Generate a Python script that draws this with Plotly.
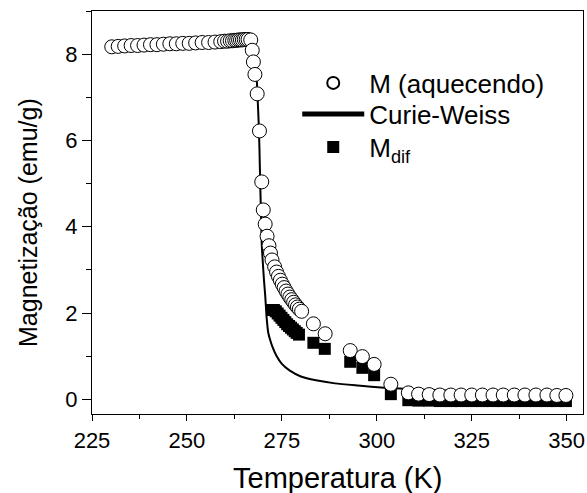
import plotly.graph_objects as go

# M (aquecendo) - open circles
t_heat = [230.2, 231.9, 233.6, 235.3, 237.0, 238.7, 240.4, 242.1, 243.8, 245.5,
          247.2, 248.9, 250.6, 252.3, 254.0, 255.7, 257.4, 258.9, 259.9, 260.7,
          261.4, 262.0, 262.6, 263.1, 263.6, 264.1, 264.6, 265.1, 265.6, 266.1,
          266.8, 267.2, 267.5, 267.9, 268.5, 269.1, 269.7, 270.1, 270.6, 271.1,
          271.6, 272.0, 272.4, 273.1, 273.6, 274.1, 274.6, 275.1, 275.6, 276.1,
          276.6, 277.1, 277.6, 278.1, 278.6, 279.1, 279.6, 280.2, 283.3, 286.4,
          293.0, 296.2, 299.3, 303.7, 308.3, 311.0, 313.8, 316.6, 319.5, 322.2,
          325.0, 327.8, 330.6, 333.3, 336.2, 339.0, 341.9, 344.8, 347.4, 349.8]
m_heat = [8.17, 8.18, 8.19, 8.20, 8.20, 8.21, 8.22, 8.22, 8.23, 8.24,
          8.24, 8.25, 8.25, 8.26, 8.27, 8.27, 8.28, 8.29, 8.30, 8.30,
          8.31, 8.31, 8.32, 8.32, 8.33, 8.33, 8.33, 8.34, 8.34, 8.34,
          8.33, 8.09, 7.82, 7.53, 7.08, 6.22, 5.04, 4.39, 4.06, 3.78,
          3.56, 3.39, 3.23, 3.07, 2.95, 2.85, 2.76, 2.67, 2.59, 2.51,
          2.44, 2.37, 2.31, 2.25, 2.19, 2.14, 2.09, 2.04, 1.75, 1.52,
          1.13, 0.99, 0.81, 0.35, 0.15, 0.12, 0.11, 0.10, 0.10, 0.10,
          0.10, 0.10, 0.10, 0.10, 0.10, 0.10, 0.10, 0.10, 0.09, 0.09]

# Curie-Weiss fit - solid line
t_cw = [268.3, 268.6, 268.9, 269.1, 269.3, 269.5, 269.7, 270.0, 270.3, 270.6,
        271.0, 271.4, 271.9, 272.5, 273.5, 275.0, 277.0, 280.0, 284.0, 289.0,
        295.0, 302.0, 310.0, 320.0, 330.0, 340.0, 350.0]
m_cw = [7.6, 7.0, 6.4, 5.8, 5.0, 4.3, 3.6, 3.15, 2.75, 2.42,
        1.88, 1.55, 1.38, 1.22, 1.02, 0.82, 0.67, 0.53, 0.44, 0.37,
        0.32, 0.27, 0.23, 0.20, 0.18, 0.17, 0.16]

# M_dif - filled squares
t_dif = [272.4, 272.9, 273.4, 273.9, 274.4, 274.9, 275.4, 275.9, 276.4, 276.9,
         277.4, 277.9, 278.4, 278.9, 279.5, 283.3, 286.3, 293.0, 296.2, 299.3,
         303.7, 308.3, 311.0, 313.8, 316.6, 319.5, 322.2, 325.0, 327.8, 330.6,
         333.3, 336.2, 339.0, 341.9, 344.8, 347.4, 349.8]
m_dif = [2.07, 2.07, 2.04, 1.99, 1.94, 1.89, 1.84, 1.79, 1.74, 1.70,
         1.66, 1.62, 1.58, 1.54, 1.50, 1.31, 1.17, 0.87, 0.73, 0.56,
         0.12, -0.02, -0.03, -0.03, -0.04, -0.04, -0.04, -0.04, -0.04, -0.04,
         -0.04, -0.04, -0.04, -0.04, -0.04, -0.04, -0.04]

x_ticks = [225, 250, 275, 300, 325, 350]
y_ticks = [0, 2, 4, 6, 8]
x_title = "Temperatura (K)"
y_title = "Magnetização (emu/g)"

FONT = "Liberation Sans, Arial, sans-serif"
L, R, T, B = 92, 4, 11, 79
W, H = 587, 493
PW, PH = W - L - R, H - T - B

fig = go.Figure()
fig.add_trace(go.Scatter(
    x=t_cw, y=m_cw, mode="lines", name="Curie-Weiss", legend="legend2",
    line=dict(color="black", width=2, shape="spline", smoothing=0.6)))
fig.add_trace(go.Scatter(
    x=t_dif, y=m_dif, mode="markers", name="M<sub>dif</sub>", legend="legend3",
    marker=dict(symbol="square", size=12, color="black")))
fig.add_trace(go.Scatter(
    x=t_heat, y=m_heat, mode="markers", name="M (aquecendo)", legend="legend",
    marker=dict(symbol="circle", size=14, color="white",
                line=dict(color="black", width=1))))


def px_x(p):
    return (p - L) / PW


def px_y(p):
    return (T + PH - p) / PH


def leg(ypx):
    return dict(x=0.418, y=px_y(ypx), xanchor="left", yanchor="middle",
                bgcolor="rgba(0,0,0,0)", borderwidth=0,
                font=dict(family=FONT, size=26, color="black"),
                itemwidth=62, itemsizing="constant")


fig.update_layout(
    width=W, height=H,
    margin=dict(l=L, r=R, t=T, b=B),
    paper_bgcolor="white", plot_bgcolor="white",
    font=dict(family=FONT, color="black", size=22),
    showlegend=True,
    legend=leg(83),
    legend2=leg(114),
    legend3=leg(147),
    xaxis=dict(range=[225, 354.3], tickvals=x_ticks, showgrid=False, zeroline=False,
               automargin=False,
               showline=True, linecolor="black", linewidth=1.3, mirror=True,
               ticks="outside", ticklen=6, tickwidth=1.3, tickcolor="black",
               minor=dict(dtick=12.5, tick0=225, ticks="outside", ticklen=4,
                          tickwidth=1.3, tickcolor="black"),
               tickfont=dict(family=FONT, size=22)),
    yaxis=dict(range=[-0.34, 9.0], tickvals=y_ticks, showgrid=False, zeroline=False,
               automargin=False,
               showline=True, linecolor="black", linewidth=1.3, mirror=True,
               ticks="outside", ticklen=9, tickwidth=1.3, tickcolor="black",
               minor=dict(dtick=1, tick0=0, ticks="outside", ticklen=5,
                          tickwidth=1.3, tickcolor="black"),
               tickfont=dict(family=FONT, size=22)),
    annotations=[
        dict(text=x_title, xref="paper", yref="paper", x=0.5, y=px_y(478),
             xanchor="center", yanchor="middle", showarrow=False,
             font=dict(family=FONT, size=29, color="black")),
        dict(text=y_title, xref="paper", yref="paper", x=px_x(28), y=px_y(223),
             xanchor="center", yanchor="middle", showarrow=False, textangle=-90,
             font=dict(family=FONT, size=25, color="black")),
    ],
)

fig.write_html("out.html")
